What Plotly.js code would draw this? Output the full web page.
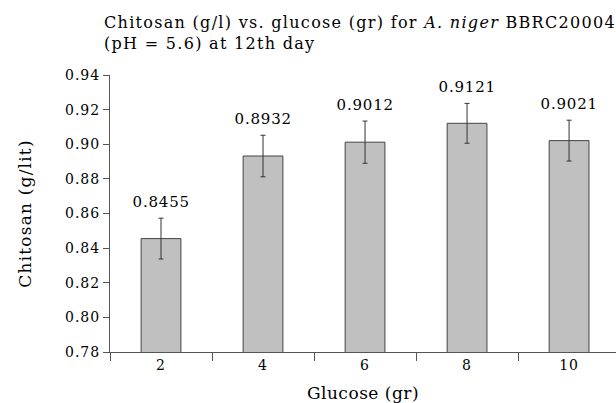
<!DOCTYPE html>
<html>
<head>
<meta charset="utf-8">
<script src="https://cdn.plot.ly/plotly-3.0.1.min.js"></script>
<style>
html,body{margin:0;padding:0;background:#fff;overflow:hidden;}
#chart{width:616px;height:403px;}
#chart text.gtitle{letter-spacing:1.3px;}
#chart text.xtitle{letter-spacing:0.5px;}
#chart text.ytitle{letter-spacing:1.2px;}
#chart g.xtick text, #chart g.ytick text{letter-spacing:1px;}
#chart text.annotation-text{letter-spacing:0.8px;}
</style>
</head>
<body>
<div id="chart"></div>
<script>
var categories = ['2', '4', '6', '8', '10'];
var chitosan = [0.8455, 0.8932, 0.9012, 0.9121, 0.9021];
var errors = [0.0118, 0.0120, 0.0122, 0.0115, 0.0118];
var valueLabels = ['0.8455', '0.8932', '0.9012', '0.9121', '0.9021'];
var yTicks = [0.78, 0.80, 0.82, 0.84, 0.86, 0.88, 0.90, 0.92, 0.94];
var yTickLabels = ['0.78', '0.80', '0.82', '0.84', '0.86', '0.88', '0.90', '0.92', '0.94'];

var FONT = 'DejaVu Serif, Liberation Serif, serif';

var trace = {
  type: 'bar',
  x: categories,
  y: chitosan,
  width: 0.39,
  marker: {color: '#c0c0c0', line: {color: '#444444', width: 1}},
  error_y: {type: 'data', array: errors, visible: true, color: '#333333', thickness: 1, width: 2.5},
  hoverinfo: 'skip'
};

var annotations = categories.map(function (c, i) {
  return {
    x: i, y: chitosan[i] + errors[i], xref: 'x', yref: 'y',
    text: valueLabels[i], showarrow: false, yanchor: 'bottom', yshift: 5,
    font: {family: FONT, size: 15, color: '#000'}
  };
});

var layout = {
  width: 616, height: 403,
  margin: {l: 110, r: 0, t: 75, b: 51},
  paper_bgcolor: '#fff', plot_bgcolor: '#fff',
  showlegend: false,
  font: {family: FONT, size: 14, color: '#000'},
  title: {
    text: 'Chitosan (g/l) vs. glucose (gr) for <i>A. niger</i> BBRC20004<br>(pH = 5.6) at 12th day',
    x: 0, xref: 'paper', xanchor: 'left', y: 0.93, yref: 'container', yanchor: 'top',
    pad: {l: -6},
    font: {family: FONT, size: 16, color: '#000'}
  },
  xaxis: {
    type: 'category',
    range: [-0.5, 4.46],
    tickson: 'boundaries',
    ticks: 'outside', ticklen: 8, tickcolor: '#555', tickwidth: 1,
    showline: true, linecolor: '#555', linewidth: 1,
    showgrid: false, zeroline: false,
    tickfont: {family: FONT, size: 14},
    title: {text: 'Glucose (gr)', standoff: 15, font: {family: FONT, size: 17}}
  },
  yaxis: {
    range: [0.78, 0.94],
    tickmode: 'array', tickvals: yTicks, ticktext: yTickLabels,
    ticks: 'outside', ticklen: 6, tickcolor: '#555', tickwidth: 1,
    showline: true, linecolor: '#555', linewidth: 1,
    showgrid: false, zeroline: false,
    tickfont: {family: FONT, size: 14},
    title: {text: 'Chitosan (g/lit)', standoff: 33, font: {family: FONT, size: 17}}
  },
  annotations: annotations
};

Plotly.newPlot('chart', [trace], layout, {staticPlot: true, displayModeBar: false});
</script>
</body>
</html>
